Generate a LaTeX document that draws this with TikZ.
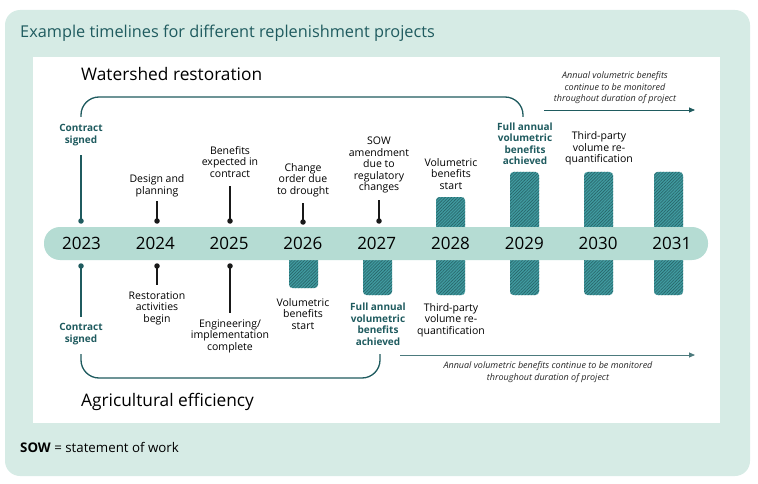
\documentclass[tikz,border=0pt]{standalone}
\usepackage{fontspec}
\setmainfont{Open Sans}
\usetikzlibrary{patterns.meta,arrows.meta}

\definecolor{panel}{HTML}{D6EBE5}
\definecolor{band}{HTML}{B5DCD3}
\definecolor{deepteal}{HTML}{1F5B5F}
\definecolor{hatchbase}{HTML}{409A9F}
\definecolor{hatchline}{HTML}{276368}
\definecolor{trail}{HTML}{4C7A7D}

\tikzset{
    event/.style={align=center, inner sep=0pt, text=black,
        font=\fontsize{10.5}{11.5}\selectfont},
    milestone/.style={event, text=deepteal,
        font=\fontsize{10}{11.5}\selectfont\bfseries},
    year/.style={inner sep=0pt, font=\fontsize{17}{17}\selectfont},
    heading/.style={anchor=west, inner sep=0pt, font=\fontsize{17.3}{17}\selectfont},
    note/.style={align=center, inner sep=0pt, text=black!85,
        font=\fontsize{9}{11.5}\selectfont\itshape},
    bar/.style={rounded corners=3.5pt, preaction={fill=hatchbase},
        pattern={Lines[angle=45,distance=2.2pt,line width=0.6pt]},
        pattern color=hatchline},
    stem/.style={line width=1.3pt, black!90},
    pin/.style={circle, fill=black!90, inner sep=0pt, minimum size=5.5pt},
    span/.style={deepteal, line width=1.3pt, rounded corners=18pt},
    onward/.style={line width=0.8pt, -{Triangle[length=6pt,width=5pt]}}
}

\begin{document}
\begin{tikzpicture}[x=1pt, y=-1pt]
    \useasboundingbox (0,0) rectangle (758,484);
    % panels
    \fill[panel, rounded corners=15pt] (5,10) rectangle (750,476);
    \fill[white] (33,57) rectangle (720,423);
    \node[heading, text=deepteal, font=\fontsize{16.3}{16}\selectfont] (title)
        at (20,33) {Example timelines for different replenishment projects};
    \node[heading] (upper) at (81,74) {Watershed restoration};
    \node[heading] (lower) at (81,402) {Agricultural efficiency};
    \node[heading, font=\fontsize{13.3}{13}\selectfont] (sow)
        at (20,447) {\textbf{SOW} = statement of work};

    % benefit bars (drawn under the band)
    \fill[bar] (436,197) rectangle (465,240);
    \foreach \x in {510,584,654}
        \fill[bar] (\x,172) rectangle (\x+29,240);
    \fill[bar] (289,245) rectangle (318,288);
    \foreach \x in {363,436,510,584,654}
        \fill[bar] (\x,245) rectangle (\x+29,295);

    % the band of years
    \fill[band, rounded corners=16pt] (44,227) rectangle (708,260);
    \foreach \yr [count=\i from 0] in {2023,2024,2025,2026,2027,2028,2029,2030,2031}
        \node[year] (y\yr) at (81.5+73.8*\i,243) {\yr};

    % watershed restoration, above the band
    \node[milestone] (sign1) at (81,135) {Contract\\signed};
    \node[event] (e2024) at (157,186) {Design and\\planning};
    \node[event] (e2025) at (230,162) {Benefits\\expected in\\contract};
    \node[event] (e2026) at (303,180) {Change\\order due\\to drought};
    \node[event] (e2027) at (379,165) {SOW\\amendment\\due to\\regulatory\\changes};
    \node[event] (e2028) at (451,174) {Volumetric\\benefits\\start};
    \node[milestone] (full1) at (525,143.5) {Full annual\\volumetric\\benefits\\achieved};
    \node[event] (e2030) at (599,148.5) {Third-party\\volume re-\\quantification};

    \node[pin, fill=deepteal] (p2023) at (81,221) {};
    \node[pin] (p2024) at (157,221) {};
    \node[pin] (p2025) at (230,221) {};
    \node[pin] (p2026) at (303,222) {};
    \node[pin] (p2027) at (379,221) {};
    \coordinate (s2023) at (81,155);
    \coordinate (s2024) at (157,201);
    \coordinate (s2025) at (230,186);
    \coordinate (s2026) at (303,203);
    \coordinate (s2027) at (379,200);
    \draw[stem, deepteal] (p2023.center) -- (s2023);
    \draw[stem] (p2024.center) -- (s2024);
    \draw[stem] (p2025.center) -- (s2025);
    \draw[stem] (p2026.center) -- (s2026);
    \draw[stem] (p2027.center) -- (s2027);

    \coordinate (b1start) at (81,117);
    \coordinate (b1end) at (523,117);
    \draw[span] (b1start) -- (81,97) -- (523,97) -- (b1end);

    \node[note] (n1) at (615,88) {Annual volumetric benefits\\continue to be monitored\\throughout duration of project};
    \coordinate (a1start) at (544,110);
    \coordinate (a1end) at (695,110);
    \draw[onward, deepteal] (a1start) -- (a1end);

    % agricultural efficiency, below the band
    \node[milestone] (sign2) at (81,334) {Contract\\signed};
    \node[event] (f2024) at (157,308) {Restoration\\activities\\begin};
    \node[event] (f2025) at (230,336) {Engineering/\\implementation\\complete};
    \node[event] (f2026) at (303,314) {Volumetric\\benefits\\start};
    \node[milestone] (full2) at (378,324) {Full annual\\volumetric\\benefits\\achieved};
    \node[event] (f2028) at (451,320) {Third-party\\volume re-\\quantification};

    \node[pin, fill=deepteal] (q2023) at (81,266) {};
    \node[pin] (q2024) at (157,266) {};
    \node[pin] (q2025) at (230,266) {};
    \coordinate (t2023) at (81,317);
    \coordinate (t2024) at (157,285);
    \coordinate (t2025) at (230,313);
    \draw[stem, deepteal] (q2023.center) -- (t2023);
    \draw[stem] (q2024.center) -- (t2024);
    \draw[stem] (q2025.center) -- (t2025);

    \coordinate (b2start) at (81,354);
    \coordinate (b2end) at (380,354);
    \draw[span] (b2start) -- (81,378) -- (380,378) -- (b2end);

    \coordinate (a2start) at (400,355);
    \coordinate (a2end) at (695,355);
    \draw[onward, trail] (a2start) -- (a2end);
    \node[note] (n2) at (548,372) {Annual volumetric benefits continue to be monitored\\throughout duration of project};
\end{tikzpicture}
\end{document}
